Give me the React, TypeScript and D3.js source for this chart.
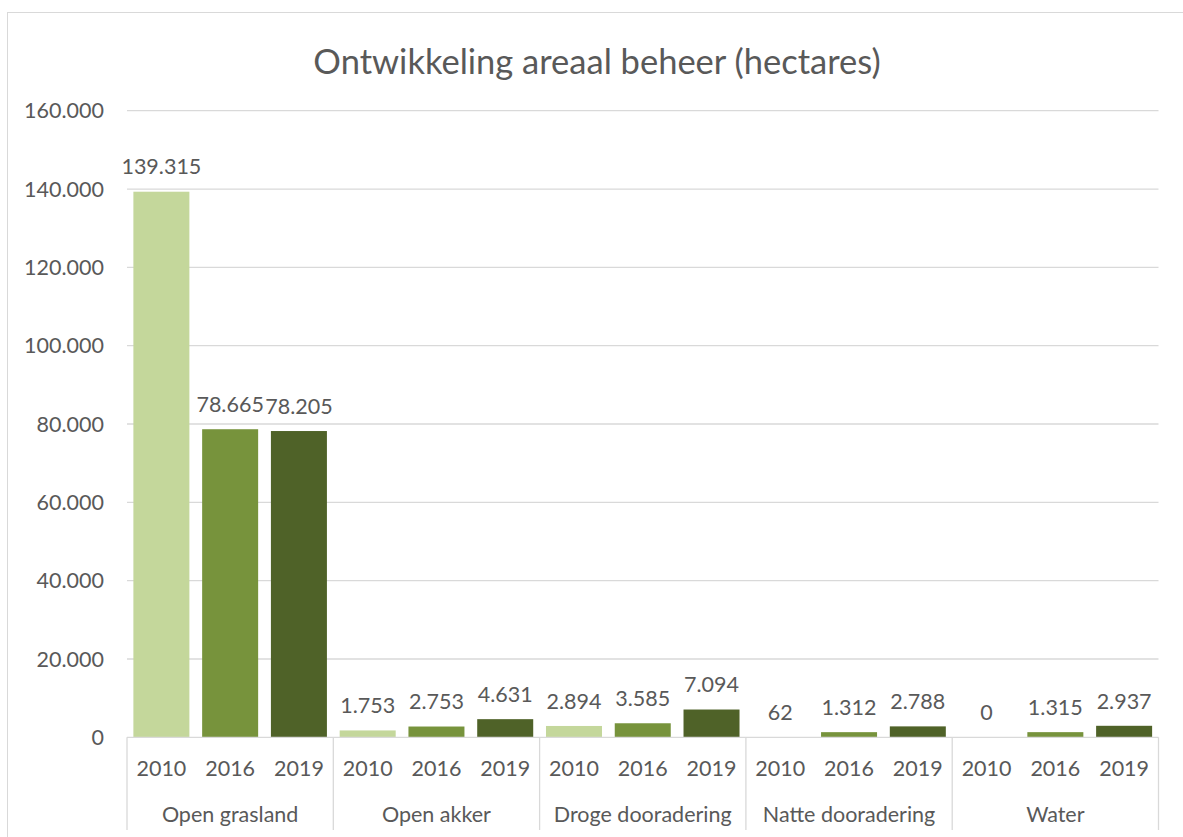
import React from "react";
import * as d3 from "d3";

const categories = ["Open grasland", "Open akker", "Droge dooradering", "Natte dooradering", "Water"];
const years = ["2010", "2016", "2019"];
const values2010 = [139315, 1753, 2894, 62, 0];
const values2016 = [78665, 2753, 3585, 1312, 1315];
const values2019 = [78205, 4631, 7094, 2788, 2937];
const yTicks = [0, 20000, 40000, 60000, 80000, 100000, 120000, 140000, 160000];
const colors = ["#C4D79B", "#77933C", "#4F6228"];
const title = "Ontwikkeling areaal beheer (hectares)";

const W = 1183;
const H = 837;
const FONT = "Lato, 'Open Sans', sans-serif";
const TEXT = "#595959";
const GRID = "#D9D9D9";
const FS = 21.5;

const locale = d3.formatLocale({ decimal: ",", thousands: ".", grouping: [3], currency: ["€", ""] });
const fmt = locale.format(",d");

export default function App() {
  const plotLeft = 127;
  const plotRight = 1158.5;
  const y0 = 737.3;
  const yTop = 110.7;

  const x0 = d3.scaleBand<string>().domain(categories).range([plotLeft, plotRight]).padding(0);
  const p = 1 - 56 / (x0.bandwidth() / 3);
  const x1 = d3.scaleBand<string>().domain(years).range([0, x0.bandwidth()]).paddingInner(p).paddingOuter(p / 2);
  const y = d3.scaleLinear().domain([0, 160000]).range([y0, yTop]);

  const series = [values2010, values2016, values2019];
  const slot = x0.bandwidth() / 3;
  const boundaries = categories.map((c) => x0(c)!).concat([plotRight]);

  return (
    <svg width={W} height={H} style={{ position: "absolute", left: 0, top: 0, background: "#fff" }}>
      <rect x={0} y={0} width={W} height={H} fill="#fff" />
      <rect x={7.5} y={12.5} width={1300} height={1000} fill="none" stroke={GRID} strokeWidth={1} />
      <text x={597} y={74} textAnchor="middle" fontFamily={FONT} fontSize={34.5} fill={TEXT}>
        {title}
      </text>
      {yTicks.map((t) => (
        <g key={t}>
          {t > 0 && <line x1={plotLeft} x2={plotRight} y1={y(t)} y2={y(t)} stroke={GRID} strokeWidth={1.3} />}
          <text x={104} y={y(t)} dy="0.36em" textAnchor="end" fontFamily={FONT} fontSize={FS} fill={TEXT}>
            {fmt(t)}
          </text>
        </g>
      ))}
      {categories.map((c, ci) =>
        years.map((yr, yi) => {
          const v = series[yi][ci];
          const bx = x0(c)! + x1(yr)!;
          const cx = x0(c)! + slot * (yi + 0.5);
          return (
            <g key={c + yr}>
              <rect x={bx} y={y(v)} width={x1.bandwidth()} height={y0 - y(v)} fill={colors[yi]} />
              <text x={cx} y={y(v) - 25} dy="0.36em" textAnchor="middle" fontFamily={FONT} fontSize={FS} fill={TEXT}>
                {fmt(v)}
              </text>
              <text x={cx} y={768} dy="0.36em" textAnchor="middle" fontFamily={FONT} fontSize={FS} fill={TEXT}>
                {yr}
              </text>
            </g>
          );
        })
      )}
      <line x1={plotLeft} x2={plotRight} y1={y0} y2={y0} stroke={GRID} strokeWidth={1.3} />
      {boundaries.map((b, i) => (
        <line key={i} x1={b} x2={b} y1={y0} y2={830} stroke={GRID} strokeWidth={1.3} />
      ))}
      {categories.map((c) => (
        <text key={c} x={x0(c)! + x0.bandwidth() / 2} y={814} dy="0.36em" textAnchor="middle" fontFamily={FONT} fontSize={FS} fill={TEXT}>
          {c}
        </text>
      ))}
    </svg>
  );
}
